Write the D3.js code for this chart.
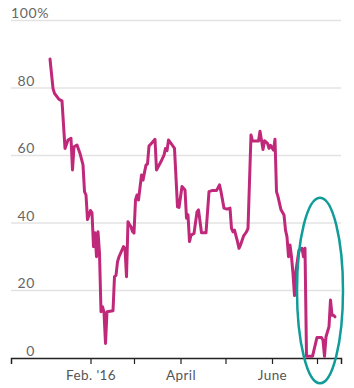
<!DOCTYPE html>
<html>
<head>
<meta charset="utf-8">
<script src="https://cdn.jsdelivr.net/npm/d3@7"></script>
<style>
  body { margin: 0; background: #fff; }
  text { font-family: Lato, "Open Sans", sans-serif; }
</style>
</head>
<body>
<div id="chart"></div>
<script>
// daily share
let dates = [
  "2016-01-05","2016-01-07","2016-01-08","2016-01-11","2016-01-13","2016-01-15","2016-01-17","2016-01-19",
  "2016-01-20","2016-01-21","2016-01-23","2016-01-25","2016-01-27","2016-01-28","2016-01-29","2016-01-30",
  "2016-02-01","2016-02-02","2016-02-03","2016-02-04","2016-02-05","2016-02-06","2016-02-07","2016-02-08",
  "2016-02-09","2016-02-10","2016-02-11","2016-02-12","2016-02-16","2016-02-17","2016-02-18","2016-02-19",
  "2016-02-20","2016-02-23","2016-02-24","2016-02-25","2016-02-26","2016-02-27","2016-02-28","2016-02-29",
  "2016-03-01","2016-03-02","2016-03-03","2016-03-04","2016-03-06","2016-03-07","2016-03-08","2016-03-09",
  "2016-03-10","2016-03-11","2016-03-13","2016-03-15","2016-03-16","2016-03-19","2016-03-21","2016-03-22",
  "2016-03-23","2016-03-24","2016-03-26","2016-03-28","2016-03-30","2016-03-31","2016-04-02","2016-04-04",
  "2016-04-05","2016-04-06","2016-04-07","2016-04-08","2016-04-10","2016-04-12","2016-04-13","2016-04-15",
  "2016-04-18","2016-04-20","2016-04-22","2016-04-25","2016-04-27","2016-04-28","2016-04-30","2016-05-02",
  "2016-05-04","2016-05-05","2016-05-06","2016-05-07","2016-05-09","2016-05-10","2016-05-11","2016-05-13",
  "2016-05-15","2016-05-16","2016-05-18","2016-05-19","2016-05-22","2016-05-23","2016-05-24","2016-05-26",
  "2016-05-27","2016-05-29","2016-05-30","2016-05-31","2016-06-02","2016-06-03","2016-06-04","2016-06-05",
  "2016-06-07","2016-06-09","2016-06-10","2016-06-11","2016-06-12","2016-06-13","2016-06-14","2016-06-15",
  "2016-06-16","2016-06-17","2016-06-19","2016-06-21","2016-06-22","2016-06-23","2016-06-24","2016-06-28",
  "2016-07-01","2016-07-04","2016-07-05","2016-07-06","2016-07-07","2016-07-09","2016-07-10","2016-07-11",
  "2016-07-12","2016-07-13"
]
let values = [
  88.6, 79.9, 78.4, 76.6, 76.2, 62.1, 64.6, 65.1,
  55.7, 62.6, 63.1, 60.6, 57.2, 49.3, 48.3, 41.0,
  43.7, 43.0, 33.0, 37.1, 30.0, 37.4, 31.0, 13.7,
  15.2, 13.5, 4.3, 13.7, 14.0, 24.1, 24.5, 28.5,
  30.0, 33.0, 32.5, 24.1, 40.4, 39.5, 38.9, 37.5,
  37.0, 46.8, 48.3, 46.8, 54.2, 52.7, 55.0, 57.2,
  57.5, 62.8, 63.8, 64.8, 55.7, 58.2, 60.1, 62.1,
  61.4, 64.6, 63.4, 62.1, 44.8, 44.6, 50.8, 49.8,
  41.4, 42.4, 34.5, 36.4, 36.9, 43.3, 43.9, 37.1,
  37.1, 49.3, 49.6, 49.6, 51.3, 49.3, 44.4, 44.1,
  44.4, 38.4, 37.4, 37.9, 34.5, 32.5, 33.5, 36.1,
  37.4, 38.4, 66.1, 64.3, 64.3, 64.3, 67.2, 61.8,
  64.4, 63.6, 62.1, 63.0, 61.6, 64.8, 49.3, 47.8,
  43.9, 42.4, 37.9, 35.9, 30.0, 33.5, 30.0, 25.0,
  18.5, 26.0, 32.0, 32.5, 30.0, 32.5, 0.5, 0.5,
  6.1, 6.1, 5.3, 0.5, 6.3, 9.3, 17.2, 12.7,
  12.7, 12.2
]
let yTicks = [0, 20, 40, 60, 80, 100]
let xTickDates = ["2016-02-01","2016-03-01","2016-04-01","2016-05-01","2016-06-01","2016-07-01"]
let xTickLabels = ["Feb. '16", "", "April", "", "June", ""]

let w = 354, h = 388
let mLeft = 11, mRight = 341, mTop = 20.5, mBottom = 358

let parse = d3.utcParse("%Y-%m-%d")
let data = dates.map((d, i) => ({date: parse(d), value: values[i]}))

let x = d3.scaleUtc()
          .domain([parse("2015-12-10"), parse("2016-07-17")])
          .range([mLeft, mRight])
let y = d3.scaleLinear()
          .domain([0, 100])
          .range([mBottom, mTop])

let svg = d3.select("#chart")
            .append("svg")
            .attr("width", w)
            .attr("height", h)

// gridlines
svg.selectAll("line.grid")
   .data(yTicks.filter(t => t > 0))
   .enter()
   .append("line")
   .attr("class", "grid")
   .attr("x1", mLeft)
   .attr("x2", mRight)
   .attr("y1", d => y(d))
   .attr("y2", d => y(d))
   .attr("stroke", "#e3e3e3")
   .attr("stroke-width", 1.5)

svg.selectAll("text.ylab")
   .data(yTicks)
   .enter()
   .append("text")
   .attr("class", "ylab")
   .attr("x", d => d == 100 ? mLeft : 35)
   .attr("y", d => y(d) - 2.5)
   .attr("text-anchor", d => d == 100 ? "start" : "end")
   .attr("font-size", 14)
   .attr("letter-spacing", 0.6)
   .attr("fill", "#666")
   .text(d => d == 100 ? d + "%" : d)

// x axis
let xAxis = d3.axisBottom(x)
              .tickValues(xTickDates.map(parse))
              .tickSize(6)
              .tickPadding(6)
              .tickFormat((d, i) => xTickLabels[i])

let gx = svg.append("g")
            .attr("transform", "translate(0," + mBottom + ")")
            .call(xAxis)
gx.select(".domain").attr("stroke", "#222").attr("stroke-width", 1.5)
gx.selectAll(".tick line").attr("stroke", "#222").attr("stroke-width", 1.2)
gx.selectAll(".tick text")
  .attr("font-family", "Lato, sans-serif")
  .attr("font-size", 13.5)
  .attr("letter-spacing", 0.4)
  .attr("fill", "#555")

// the line
let line = d3.line()
             .x(d => x(d.date))
             .y(d => y(d.value))

svg.append("path")
   .datum(data)
   .attr("d", line)
   .attr("fill", "none")
   .attr("stroke", "#c0287a")
   .attr("stroke-width", 3)
   .attr("stroke-linejoin", "round")
   .attr("stroke-linecap", "round")

// circled annotation
svg.append("ellipse")
   .attr("cx", x(parse("2016-07-03")))
   .attr("cy", y(20))
   .attr("rx", 23)
   .attr("ry", y(0) - y(27.5))
   .attr("fill", "none")
   .attr("stroke", "#109c99")
   .attr("stroke-width", 2.5)
</script>
</body>
</html>
